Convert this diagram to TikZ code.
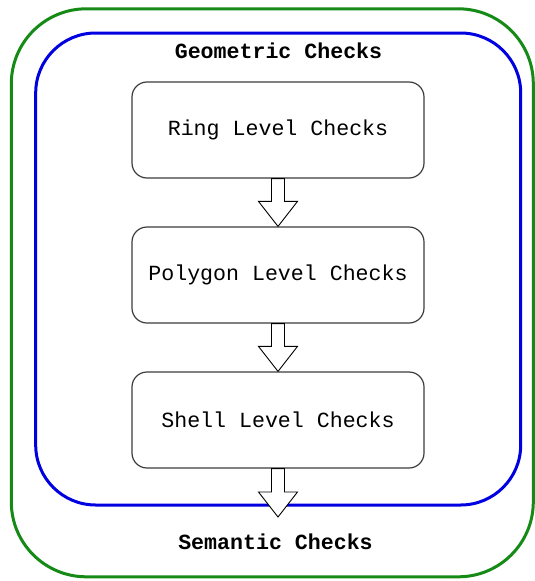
\documentclass[tikz,border=0pt]{standalone}
\usepackage{fontspec}
\setmonofont{Liberation Mono}
\usetikzlibrary{calc}
\definecolor{outgreen}{RGB}{22,138,22}
\definecolor{inblue}{RGB}{0,0,225}
\definecolor{boxgray}{RGB}{60,60,60}
\begin{document}
\begin{tikzpicture}[x=1pt,y=-1pt,
  outerbox/.style={draw=outgreen, line width=3pt, rounded corners=75pt, minimum width=522pt, minimum height=568pt, inner sep=0pt},
  innerbox/.style={draw=inblue, line width=3pt, rounded corners=60pt, minimum width=485pt, minimum height=472pt, inner sep=0pt},
  stepbox/.style={draw=boxgray, line width=1.2pt, rounded corners=15pt, minimum width=292pt, minimum height=96pt, inner sep=0pt, font=\ttfamily\fontsize{21.6}{26}\selectfont},
  title/.style={font=\ttfamily\bfseries\fontsize{21.6}{26}\selectfont, inner sep=0pt},
  bigarrow/.style={draw=black, fill=white, line width=0.9pt, line join=miter,
    to path={let \p1=(\tikztostart), \p2=(\tikztotarget) in
      (\x1-6.5pt,\y1) -- (\x1-6.5pt,\y2+25pt) -- (\x1-19.5pt,\y2+25pt) -- (\x2,\y2)
      -- (\x1+19.5pt,\y2+25pt) -- (\x1+6.5pt,\y2+25pt) -- (\x1+6.5pt,\y1) -- cycle}}
]
\useasboundingbox (0,0) rectangle (535,581);
\node[outerbox] (semantic) at (272.3,292.8) {};
\node[innerbox] (geometric) at (278.2,269) {};
\node[title] (geolabel) at (278.5,51) {Geometric Checks};
\node[title] (semlabel) at (275.5,542) {Semantic Checks};
\node[stepbox] (ring) at (278,130) {Ring Level Checks};
\node[stepbox] (poly) at (278,275) {Polygon Level Checks};
\node[stepbox] (shell) at (278,420) {Shell Level Checks};
\coordinate (tip) at (278,517);
\path[bigarrow] (ring.south) to (poly.north);
\path[bigarrow] (poly.south) to (shell.north);
\path[bigarrow] (shell.south) to (tip);
\end{tikzpicture}
\end{document}
